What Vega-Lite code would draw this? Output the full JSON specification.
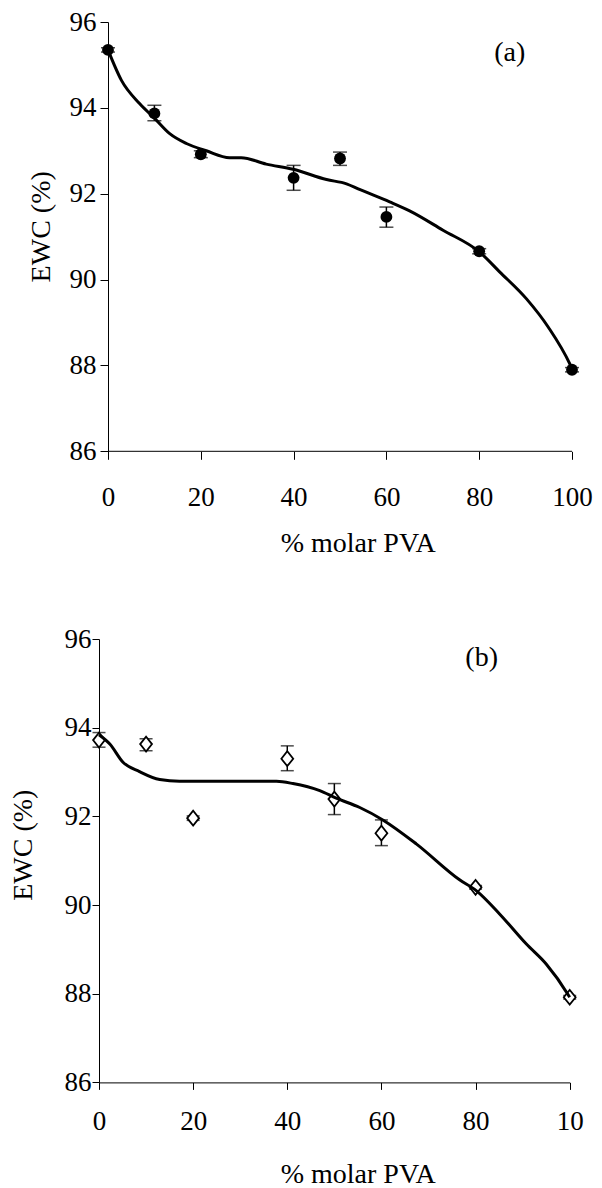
{
  "$schema": "https://vega.github.io/schema/vega-lite/v6.json",
  "padding": {"left": 9, "top": 8, "right": 5, "bottom": 5},
  "background": "white",
  "spacing": 67,
  "config": {
    "view": {"stroke": null},
    "font": "Liberation Serif",
    "axis": {
      "grid": false,
      "labelFont": "Liberation Serif",
      "titleFont": "Liberation Serif",
      "labelFontSize": 27,
      "titleFontSize": 28,
      "titleFontWeight": "normal",
      "labelColor": "black",
      "titleColor": "black",
      "tickColor": "black",
      "domainColor": "black",
      "tickWidth": 1,
      "domainWidth": 1,
      "labelFlush": false,
      "labelOverlap": false
    }
  },
  "datasets": {
    "pts_a": [
      {"pva": 0, "ewc": 95.35, "low": 95.3, "high": 95.4},
      {"pva": 10, "ewc": 93.87, "low": 93.7, "high": 94.06},
      {"pva": 20, "ewc": 92.92, "low": 92.84, "high": 93.0},
      {"pva": 40, "ewc": 92.37, "low": 92.08, "high": 92.66},
      {"pva": 50, "ewc": 92.82, "low": 92.66, "high": 92.97},
      {"pva": 60, "ewc": 91.46, "low": 91.22, "high": 91.69},
      {"pva": 80, "ewc": 90.66, "low": 90.6, "high": 90.72},
      {"pva": 100, "ewc": 87.9, "low": 87.85, "high": 87.95}
    ],
    "fit_a": [
      {"pva": 0, "ewc": 95.35},
      {"pva": 2.9, "ewc": 94.64},
      {"pva": 6.8, "ewc": 94.1},
      {"pva": 10.1, "ewc": 93.75},
      {"pva": 13.3, "ewc": 93.4},
      {"pva": 16.9, "ewc": 93.17},
      {"pva": 21.2, "ewc": 93.0},
      {"pva": 26.2, "ewc": 92.84},
      {"pva": 28.7, "ewc": 92.84},
      {"pva": 34.1, "ewc": 92.69},
      {"pva": 39.9, "ewc": 92.57},
      {"pva": 47.1, "ewc": 92.33},
      {"pva": 51.4, "ewc": 92.23},
      {"pva": 54.2, "ewc": 92.1},
      {"pva": 60.7, "ewc": 91.81},
      {"pva": 65.0, "ewc": 91.6},
      {"pva": 72.2, "ewc": 91.15},
      {"pva": 80.1, "ewc": 90.64},
      {"pva": 84.4, "ewc": 90.18},
      {"pva": 90.2, "ewc": 89.55},
      {"pva": 94.9, "ewc": 88.89},
      {"pva": 99.5, "ewc": 88.04},
      {"pva": 100, "ewc": 87.92}
    ],
    "pts_b": [
      {"pva": 0, "ewc": 93.72, "low": 93.56, "high": 93.89},
      {"pva": 10, "ewc": 93.63, "low": 93.48, "high": 93.75},
      {"pva": 20, "ewc": 91.96, "low": 91.91, "high": 92.01},
      {"pva": 40, "ewc": 93.3, "low": 93.03, "high": 93.59},
      {"pva": 50, "ewc": 92.39, "low": 92.04, "high": 92.74},
      {"pva": 60, "ewc": 91.62, "low": 91.34, "high": 91.92},
      {"pva": 80, "ewc": 90.4, "low": 90.36, "high": 90.44},
      {"pva": 100, "ewc": 87.92, "low": 87.88, "high": 87.96}
    ],
    "fit_b": [
      {"pva": 0, "ewc": 93.84},
      {"pva": 2.3, "ewc": 93.63},
      {"pva": 5.1, "ewc": 93.22},
      {"pva": 8.6, "ewc": 93.01},
      {"pva": 12.9, "ewc": 92.83},
      {"pva": 17.1, "ewc": 92.79},
      {"pva": 37.7, "ewc": 92.79},
      {"pva": 41.2, "ewc": 92.74},
      {"pva": 46.9, "ewc": 92.58},
      {"pva": 50.4, "ewc": 92.41},
      {"pva": 55.4, "ewc": 92.2},
      {"pva": 60.3, "ewc": 91.92},
      {"pva": 67.4, "ewc": 91.38},
      {"pva": 76.6, "ewc": 90.57},
      {"pva": 80.2, "ewc": 90.32},
      {"pva": 85.1, "ewc": 89.8},
      {"pva": 90.8, "ewc": 89.12},
      {"pva": 95.0, "ewc": 88.67},
      {"pva": 99.6, "ewc": 87.99},
      {"pva": 100, "ewc": 87.92}
    ]
  },
  "vconcat": [
    {
      "width": 473,
      "height": 429.3,
      "layer": [
        {
          "data": {"name": "pts_a"},
          "mark": {"type": "rule", "color": "black", "strokeWidth": 1.5},
          "encoding": {
            "x": {
              "field": "pva", "type": "quantitative",
              "scale": {"domain": [-1.94, 100], "nice": false, "zero": false},
              "axis": {
                "title": "% molar PVA",
                "values": [0, 20, 40, 60, 80, 100],
                "domain": false,
                "tickSize": 8,
                "labelPadding": 25,
                "labelDx": 2,
                "titleX": 258.7,
                "titleY": 92,
                "titleBaseline": "middle",
                "titleAlign": "center"
              }
            },
            "y": {
              "field": "low", "type": "quantitative",
              "scale": {"domain": [86, 96], "nice": false, "zero": false},
              "axis": {
                "title": "EWC (%)",
                "values": [86, 88, 90, 92, 94, 96],
                "offset": -9,
                "tickSize": 8,
                "labelPadding": 4,
                "titleX": -66.6,
                "titleY": 204.3,
                "titleAngle": -90,
                "titleBaseline": "middle",
                "titleAlign": "center"
              }
            },
            "y2": {"field": "high"}
          }
        },
        {
          "data": {"values": [{"start": 0, "end": 100, "level": 86}]},
          "mark": {"type": "rule", "color": "black", "strokeWidth": 1},
          "encoding": {
            "x": {"field": "start", "type": "quantitative", "title": "% molar PVA"},
            "x2": {"field": "end"},
            "y": {"field": "level", "type": "quantitative", "title": "EWC (%)"}
          }
        },
        {
          "data": {"name": "pts_a"},
          "mark": {"type": "tick", "orient": "horizontal", "size": 14, "thickness": 1.5, "color": "black"},
          "encoding": {
            "x": {"field": "pva", "type": "quantitative", "title": "% molar PVA"},
            "y": {"field": "low", "type": "quantitative", "title": "EWC (%)"}
          }
        },
        {
          "data": {"name": "pts_a"},
          "mark": {"type": "tick", "orient": "horizontal", "size": 14, "thickness": 1.5, "color": "black"},
          "encoding": {
            "x": {"field": "pva", "type": "quantitative", "title": "% molar PVA"},
            "y": {"field": "high", "type": "quantitative", "title": "EWC (%)"}
          }
        },
        {
          "data": {"name": "fit_a"},
          "mark": {"type": "line", "color": "black", "strokeWidth": 3, "interpolate": "monotone"},
          "encoding": {
            "x": {"field": "pva", "type": "quantitative", "title": "% molar PVA"},
            "y": {"field": "ewc", "type": "quantitative", "title": "EWC (%)"}
          }
        },
        {
          "data": {"name": "pts_a"},
          "mark": {"type": "point", "shape": "circle", "filled": true, "size": 140, "color": "black", "opacity": 1},
          "encoding": {
            "x": {"field": "pva", "type": "quantitative", "title": "% molar PVA"},
            "y": {"field": "ewc", "type": "quantitative", "title": "EWC (%)"}
          }
        },
        {
          "data": {"values": [{"pva": 86.6, "ewc": 95.27, "tag": "(a)"}]},
          "mark": {"type": "text", "font": "Liberation Serif", "fontSize": 28, "color": "black", "align": "center", "baseline": "middle"},
          "encoding": {
            "x": {"field": "pva", "type": "quantitative", "title": "% molar PVA"},
            "y": {"field": "ewc", "type": "quantitative", "title": "EWC (%)"},
            "text": {"field": "tag"}
          }
        }
      ]
    },
    {
      "width": 470.7,
      "height": 443.4,
      "layer": [
        {
          "data": {"name": "pts_b"},
          "mark": {"type": "rule", "color": "black", "strokeWidth": 1.5},
          "encoding": {
            "x": {
              "field": "pva", "type": "quantitative",
              "scale": {"domain": [0, 100], "nice": false, "zero": false},
              "axis": {
                "title": "% molar PVA",
                "values": [0, 20, 40, 60, 80, 100],
                "labelExpr": "datum.value == 100 ? '10' : datum.label",
                "tickSize": 7,
                "labelPadding": 19,
                "labelDx": 1,
                "titleX": 258.7,
                "titleY": 91.6,
                "titleBaseline": "middle",
                "titleAlign": "center"
              }
            },
            "y": {
              "field": "low", "type": "quantitative",
              "scale": {"domain": [86, 96], "nice": false, "zero": false},
              "axis": {
                "title": "EWC (%)",
                "values": [86, 88, 90, 92, 94, 96],
                "tickSize": 7,
                "labelPadding": 1,
                "titleX": -76,
                "titleY": 205.7,
                "titleAngle": -90,
                "titleBaseline": "middle",
                "titleAlign": "center"
              }
            },
            "y2": {"field": "high"}
          }
        },
        {
          "data": {"name": "pts_b"},
          "mark": {"type": "tick", "orient": "horizontal", "size": 13, "thickness": 1.5, "color": "black"},
          "encoding": {
            "x": {"field": "pva", "type": "quantitative", "title": "% molar PVA"},
            "y": {"field": "low", "type": "quantitative", "title": "EWC (%)"}
          }
        },
        {
          "data": {"name": "pts_b"},
          "mark": {"type": "tick", "orient": "horizontal", "size": 13, "thickness": 1.5, "color": "black"},
          "encoding": {
            "x": {"field": "pva", "type": "quantitative", "title": "% molar PVA"},
            "y": {"field": "high", "type": "quantitative", "title": "EWC (%)"}
          }
        },
        {
          "data": {"name": "pts_b"},
          "mark": {"type": "point", "shape": "M-0.8,0L0,-1L0.8,0L0,1Z", "filled": true, "fill": "white", "stroke": "black", "strokeWidth": 1.8, "size": 220, "opacity": 1, "fillOpacity": 1, "strokeOpacity": 1},
          "encoding": {
            "x": {"field": "pva", "type": "quantitative", "title": "% molar PVA"},
            "y": {"field": "ewc", "type": "quantitative", "title": "EWC (%)"}
          }
        },
        {
          "data": {"name": "fit_b"},
          "mark": {"type": "line", "color": "black", "strokeWidth": 3, "interpolate": "monotone"},
          "encoding": {
            "x": {"field": "pva", "type": "quantitative", "title": "% molar PVA"},
            "y": {"field": "ewc", "type": "quantitative", "title": "EWC (%)"}
          }
        },
        {
          "data": {"values": [{"pva": 81.3, "ewc": 95.58, "tag": "(b)"}]},
          "mark": {"type": "text", "font": "Liberation Serif", "fontSize": 28, "color": "black", "align": "center", "baseline": "middle"},
          "encoding": {
            "x": {"field": "pva", "type": "quantitative", "title": "% molar PVA"},
            "y": {"field": "ewc", "type": "quantitative", "title": "EWC (%)"},
            "text": {"field": "tag"}
          }
        }
      ]
    }
  ]
}
